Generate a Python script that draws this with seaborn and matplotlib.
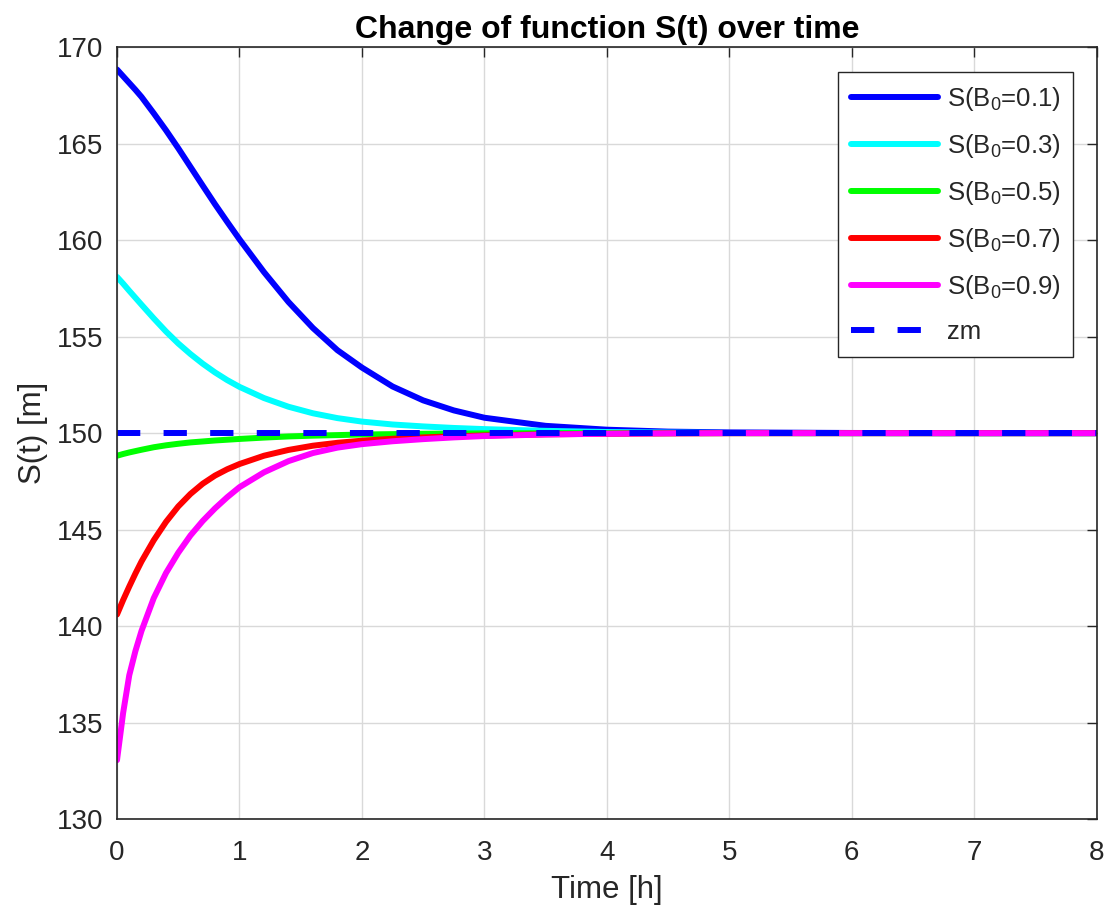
import pandas as pd
import matplotlib
matplotlib.use("Agg")
import matplotlib.pyplot as plt
import seaborn as sns

# Data
t = [0, 0.05, 0.1, 0.15, 0.2, 0.3, 0.4, 0.5, 0.6, 0.7, 0.8, 0.9, 1.0,
     1.2, 1.4, 1.6, 1.8, 2.0, 2.25, 2.5, 2.75, 3.0, 3.5, 4.0, 4.5, 5.0,
     6.0, 7.0, 8.0]
s_b01 = [168.85, 168.5, 168.15, 167.8, 167.43, 166.58, 165.7, 164.77, 163.8,
         162.83, 161.87, 160.95, 160.05, 158.35, 156.8, 155.45, 154.3, 153.4,
         152.42, 151.7, 151.18, 150.8, 150.38, 150.18, 150.08, 150.04, 150.01,
         150.0, 150.0]
s_b03 = [158.1, 157.75, 157.38, 157.02, 156.66, 155.95, 155.27, 154.65, 154.1,
         153.6, 153.15, 152.75, 152.4, 151.82, 151.37, 151.03, 150.78, 150.6,
         150.45, 150.35, 150.27, 150.21, 150.12, 150.06, 150.03, 150.01,
         150.0, 150.0, 150.0]
s_b05 = [148.83, 148.92, 149.0, 149.07, 149.14, 149.27, 149.37, 149.45,
         149.52, 149.57, 149.62, 149.66, 149.7, 149.77, 149.83, 149.87, 149.9,
         149.93, 149.95, 149.97, 149.98, 149.99, 150.0, 150.0, 150.0, 150.0,
         150.0, 150.0, 150.0]
s_b07 = [140.6, 141.35, 142.05, 142.72, 143.35, 144.45, 145.4, 146.2, 146.85,
         147.38, 147.8, 148.13, 148.4, 148.83, 149.13, 149.35, 149.5, 149.61,
         149.71, 149.78, 149.84, 149.88, 149.94, 149.97, 149.99, 150.0, 150.0,
         150.0, 150.0]
s_b09 = [133.05, 135.5, 137.45, 138.7, 139.75, 141.45, 142.75, 143.8, 144.7,
         145.45, 146.1, 146.68, 147.2, 147.97, 148.55, 148.97, 149.25, 149.43,
         149.58, 149.69, 149.78, 149.85, 149.93, 149.97, 149.99, 150.0, 150.0,
         150.0, 150.0]
zm_t = [0, 8]
zm = [150, 150]

labels = ['S(B$_0$=0.1)', 'S(B$_0$=0.3)', 'S(B$_0$=0.5)',
          'S(B$_0$=0.7)', 'S(B$_0$=0.9)']
colors = ['#0000ff', '#00ffff', '#00ff00', '#ff0000', '#ff00ff']

sns.set_theme(style="white")
plt.rcParams['font.family'] = ['Liberation Sans', 'DejaVu Sans']
plt.rcParams['mathtext.default'] = 'regular'

fig = plt.figure(figsize=(11.07, 9.10), dpi=100)
ax = fig.add_axes([0.1057, 0.1, 0.885, 0.848])

series = [s_b01, s_b03, s_b05, s_b07, s_b09]
for vals, lab, col in zip(series, labels, colors):
    sns.lineplot(x=t, y=vals, color=col, linewidth=4.3, label=lab, ax=ax)
sns.lineplot(x=zm_t, y=zm, color='#0000ff', linewidth=4.3,
             linestyle=(0, (3.9, 3.9)), label='zm', ax=ax)

ax.set_xlim(0, 8)
ax.set_ylim(130, 170)
ax.set_xticks(range(0, 9))
ax.set_yticks(range(130, 171, 5))
ax.grid(True, color='#d9d9d9', linewidth=1)
ax.tick_params(direction='in', length=7, width=1, colors='#262626',
               labelsize=20, top=True, right=True)
ax.tick_params(axis='x', pad=15)
ax.tick_params(axis='y', pad=10)
for sp in ax.spines.values():
    sp.set_color('#262626')
    sp.set_linewidth(1.2)

ax.set_xlabel('Time [h]', fontsize=22.5, color='#262626', labelpad=6.5)
ax.set_ylabel('S(t) [m]', fontsize=22.5, color='#262626', labelpad=6.5)
ax.set_title('Change of function S(t) over time', fontsize=23,
             fontweight='bold', color='black', pad=6.5)

leg = ax.legend(loc='upper right', bbox_to_anchor=(0.976, 0.968),
                borderaxespad=0, fontsize=18.5, frameon=True, fancybox=False,
                framealpha=1, edgecolor='#262626', handlelength=3.4,
                handletextpad=0.32, labelspacing=0.74, borderpad=0.5)
leg.get_frame().set_linewidth(1)

plt.savefig('out.png', dpi=100)
plt.close()
